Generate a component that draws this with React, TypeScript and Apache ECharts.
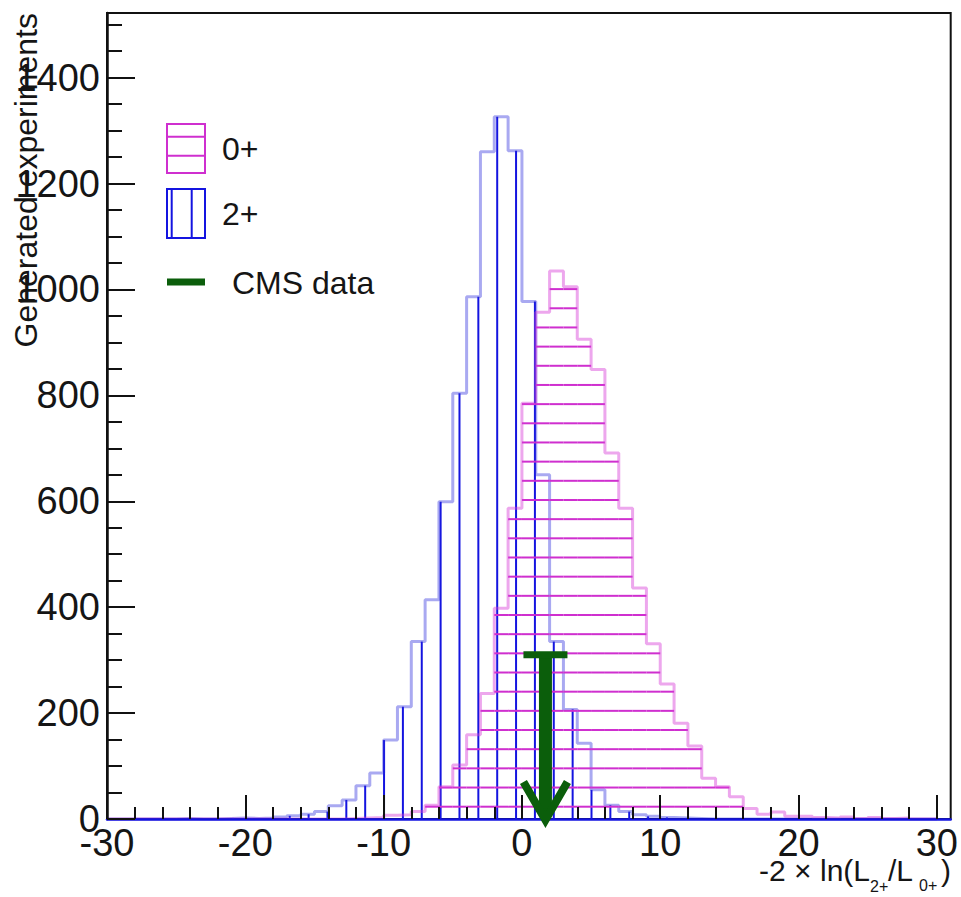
import React, { useEffect, useRef } from "react";
import * as echarts from "echarts";

// ---- data ----
const binStart = -30; // lower edge of first bin
const binWidth = 1;
// 0+ hypothesis pseudo-experiments (magenta), bins [-30,-29] ... [29,30]
const spin0Counts = [
  0, 0, 0, 0, 0, 0, 0, 0, 0, 0,
  0, 0, 0, 0, 0, 0, 0, 1, 2, 3,
  7, 8, 14, 26, 61, 102, 159, 237, 398, 587,
  785, 957, 1035, 1005, 906, 849, 691, 587, 436, 331,
  255, 181, 138, 77, 61, 42, 20, 9, 13, 5,
  5, 3, 2, 4, 1, 3, 1, 2, 0, 0,
];
// 2+ hypothesis pseudo-experiments (blue)
const spin2Counts = [
  0, 0, 0, 0, 0, 1, 0, 0, 1, 2,
  1, 2, 4, 6, 9, 14, 25, 36, 63, 87,
  149, 212, 335, 414, 599, 804, 986, 1260, 1326, 1262,
  977, 650, 335, 207, 143, 55, 26, 14, 8, 5,
  3, 2, 1, 0, 0, 0, 0, 0, 0, 0,
  0, 0, 0, 0, 0, 0, 0, 0, 0, 0,
];
const cmsDataX = 1.7;
const cmsArrowTop = 310;
const xTickLabels = [-30, -20, -10, 0, 10, 20, 30];
const yTickLabels = [0, 200, 400, 600, 800, 1000, 1200, 1400];
const X_MIN = -30;
const X_MAX = 31;
const Y_MAX = 1522;

// ---- style ----
const MAGENTA = "#cf2fcf";
const MAGENTA_OUT = "rgba(215,60,215,0.45)";
const BLUE = "#1414e0";
const BLUE_OUT = "rgba(40,40,220,0.4)";
const GREEN = "#0b5e0b";
const FONT = "'Liberation Sans', Arial, Helvetica, sans-serif";
const TXT = "#151515";
const HX_STEP = 18.86;
const HX_OFF = 13;
const HY_STEP = 19.17;
const HY_OFF = 12.3;

function range(a: number, b: number, s: number) {
  const r: number[] = [];
  for (let v = a; v <= b + 1e-9; v += s) r.push(Math.round(v * 1000) / 1000);
  return r;
}

function binData(counts: number[]) {
  return counts.map((c, i) => [binStart + i * binWidth, binStart + (i + 1) * binWidth, c]);
}

function outlineData(counts: number[]) {
  const d: number[][] = counts.map((c, i) => [binStart + i * binWidth, c]);
  d.push([binStart + counts.length * binWidth, counts[counts.length - 1]]);
  return d;
}

function hatchRenderer(kind: "v" | "h", color: string) {
  return (params: any, api: any) => {
    const lo = api.value(0);
    const hi = api.value(1);
    const v = api.value(2);
    const children: any[] = [];
    if (v > 0) {
      const origin = api.coord([X_MIN, 0]);
      const a = api.coord([lo, 0]);
      const b = api.coord([hi, v]);
      if (kind === "v") {
        const k0 = Math.ceil((a[0] - origin[0] - HX_OFF) / HX_STEP - 1e-6);
        for (let k = k0; k < k0 + 10; k++) {
          const x = origin[0] + HX_OFF + k * HX_STEP;
          if (x >= b[0]) break;
          children.push({
            type: "line",
            shape: { x1: x, y1: a[1], x2: x, y2: b[1] },
            style: { stroke: color, lineWidth: 2 },
          });
        }
      } else {
        for (let k = 0; k < 200; k++) {
          const y = origin[1] - HY_OFF - k * HY_STEP;
          if (y <= b[1]) break;
          children.push({
            type: "line",
            shape: { x1: a[0], y1: y, x2: b[0], y2: y },
            style: { stroke: color, lineWidth: 2 },
          });
        }
      }
    }
    return { type: "group", children };
  };
}

function arrowRenderer(params: any, api: any) {
  const top = api.coord([api.value(0), api.value(1)]);
  const bot = api.coord([api.value(0), 0]);
  return {
    type: "group",
    children: [
      {
        type: "line",
        shape: { x1: top[0], y1: top[1], x2: bot[0], y2: bot[1] - 6 },
        style: { stroke: GREEN, lineWidth: 13 },
      },
      {
        type: "line",
        shape: { x1: top[0] - 22, y1: top[1], x2: top[0] + 22, y2: top[1] },
        style: { stroke: GREEN, lineWidth: 7 },
      },
      {
        type: "polyline",
        shape: {
          points: [
            [bot[0] - 22, bot[1] - 37],
            [bot[0], bot[1] + 1],
            [bot[0] + 22, bot[1] - 37],
          ],
        },
        style: { stroke: GREEN, lineWidth: 8, fill: "none", lineJoin: "miter" },
      },
    ],
  };
}

export default function App() {
  const ref = useRef<HTMLDivElement>(null);
  useEffect(() => {
    if (!ref.current) return;
    const chart = echarts.init(ref.current, undefined, { renderer: "svg" });
    const axisTickStyle = { color: "#111", width: 2 };
    const option: any = {
      animation: false,
      backgroundColor: "#fff",
      grid: {
        left: 107,
        top: 13,
        width: 847,
        height: 806,
        show: true,
        borderColor: "#111",
        borderWidth: 2,
        backgroundColor: "transparent",
      },
      xAxis: [
        {
          type: "value",
          min: X_MIN,
          max: X_MAX,
          interval: 10,
          position: "bottom",
          z: 10,
          axisLine: { show: true, onZero: false, lineStyle: { color: BLUE, width: 2.5 } },
          axisTick: {
            show: true,
            inside: true,
            length: 24,
            customValues: xTickLabels,
            lineStyle: axisTickStyle,
          },
          axisLabel: {
            show: true,
            customValues: xTickLabels,
            formatter: (v: number) => (v % 10 === 0 && v <= 30 ? String(v) : ""),
            margin: 5,
            fontSize: 38,
            fontFamily: FONT,
            color: TXT,
          },
          splitLine: { show: false },
        },
        {
          type: "value",
          min: X_MIN,
          max: X_MAX,
          interval: 2,
          position: "bottom",
          z: 10,
          axisLine: { show: false, onZero: false },
          axisTick: {
            show: true,
            inside: true,
            length: 12,
            customValues: range(-30, 30, 2),
            lineStyle: axisTickStyle,
          },
          axisLabel: { show: false },
          splitLine: { show: false },
        },
      ],
      yAxis: [
        {
          type: "value",
          min: 0,
          max: Y_MAX,
          interval: 200,
          position: "left",
          z: 10,
          axisLine: { show: true, onZero: false, lineStyle: { color: "#111", width: 2.5 } },
          axisTick: {
            show: true,
            inside: true,
            length: 28,
            customValues: yTickLabels,
            lineStyle: axisTickStyle,
          },
          axisLabel: {
            show: true,
            customValues: yTickLabels,
            formatter: (v: number) => (v % 200 === 0 && v <= 1400 ? String(v) : ""),
            margin: 7,
            fontSize: 38,
            fontFamily: FONT,
            color: TXT,
          },
          splitLine: { show: false },
        },
        {
          type: "value",
          min: 0,
          max: Y_MAX,
          interval: 50,
          position: "left",
          z: 10,
          axisLine: { show: false, onZero: false },
          axisTick: {
            show: true,
            inside: true,
            length: 15,
            customValues: range(0, 1500, 50),
            lineStyle: axisTickStyle,
          },
          axisLabel: { show: false },
          splitLine: { show: false },
        },
      ],
      series: [
        {
          type: "custom",
          name: "2+ hatch",
          renderItem: hatchRenderer("v", BLUE),
          data: binData(spin2Counts),
          encode: { x: [0, 1], y: 2 },
          clip: true,
          z: 2,
        },
        {
          type: "line",
          name: "2+",
          step: "end",
          data: outlineData(spin2Counts),
          showSymbol: false,
          symbol: "none",
          lineStyle: { color: BLUE_OUT, width: 3 },
          z: 3,
        },
        {
          type: "custom",
          name: "0+ hatch",
          renderItem: hatchRenderer("h", MAGENTA),
          data: binData(spin0Counts),
          encode: { x: [0, 1], y: 2 },
          clip: true,
          z: 4,
        },
        {
          type: "line",
          name: "0+",
          step: "end",
          data: outlineData(spin0Counts),
          showSymbol: false,
          symbol: "none",
          lineStyle: { color: MAGENTA_OUT, width: 3 },
          z: 5,
        },
        {
          type: "custom",
          name: "CMS data",
          renderItem: arrowRenderer,
          data: [[cmsDataX, cmsArrowTop]],
          encode: { x: 0, y: 1 },
          clip: false,
          z: 20,
        },
      ],
      graphic: [
        // legend
        {
          type: "rect",
          shape: { x: 167, y: 124, width: 38, height: 49 },
          style: { fill: "none", stroke: MAGENTA, lineWidth: 2 },
        },
        { type: "line", shape: { x1: 167, y1: 136.7, x2: 205, y2: 136.7 }, style: { stroke: MAGENTA, lineWidth: 2 } },
        { type: "line", shape: { x1: 167, y1: 155.7, x2: 205, y2: 155.7 }, style: { stroke: MAGENTA, lineWidth: 2 } },
        {
          type: "rect",
          shape: { x: 167, y: 189, width: 38, height: 49 },
          style: { fill: "none", stroke: BLUE, lineWidth: 2 },
        },
        { type: "line", shape: { x1: 171.7, y1: 189, x2: 171.7, y2: 238 }, style: { stroke: BLUE, lineWidth: 2 } },
        { type: "line", shape: { x1: 191.7, y1: 189, x2: 191.7, y2: 238 }, style: { stroke: BLUE, lineWidth: 2 } },
        { type: "line", shape: { x1: 167, y1: 282, x2: 205, y2: 282 }, style: { stroke: GREEN, lineWidth: 7 } },
        {
          type: "text",
          x: 222,
          y: 149,
          style: { text: "0+", font: `32px ${FONT}`, fill: TXT, textAlign: "left", textVerticalAlign: "middle" },
        },
        {
          type: "text",
          x: 222,
          y: 214,
          style: { text: "2+", font: `32px ${FONT}`, fill: TXT, textAlign: "left", textVerticalAlign: "middle" },
        },
        {
          type: "text",
          x: 232,
          y: 283,
          style: { text: "CMS data", font: `32px ${FONT}`, fill: TXT, textAlign: "left", textVerticalAlign: "middle" },
        },
        // y axis title
        {
          type: "text",
          x: 26,
          y: 13,
          rotation: Math.PI / 2,
          style: {
            text: "Generated experiments",
            font: `32px ${FONT}`,
            fill: TXT,
            textAlign: "right",
            textVerticalAlign: "middle",
          },
        },
        // x axis title
        {
          type: "text",
          x: 870,
          y: 870,
          style: { text: "-2 × ln(L", font: `30px ${FONT}`, fill: TXT, textAlign: "right", textVerticalAlign: "middle" },
        },
        {
          type: "text",
          x: 870,
          y: 886,
          style: { text: "2+", font: `16px ${FONT}`, fill: TXT, textAlign: "left", textVerticalAlign: "middle" },
        },
        {
          type: "text",
          x: 888,
          y: 870,
          style: { text: "/L", font: `30px ${FONT}`, fill: TXT, textAlign: "left", textVerticalAlign: "middle" },
        },
        {
          type: "text",
          x: 919,
          y: 885,
          style: { text: "0+", font: `16px ${FONT}`, fill: TXT, textAlign: "left", textVerticalAlign: "middle" },
        },
        {
          type: "text",
          x: 941,
          y: 870,
          style: { text: ")", font: `30px ${FONT}`, fill: TXT, textAlign: "left", textVerticalAlign: "middle" },
        },
      ],
    };
    chart.setOption(option);
    return () => chart.dispose();
  }, []);
  return (
    <div
      ref={ref}
      style={{ position: "absolute", left: 0, top: 0, width: 961, height: 897, background: "#fff" }}
    />
  );
}
